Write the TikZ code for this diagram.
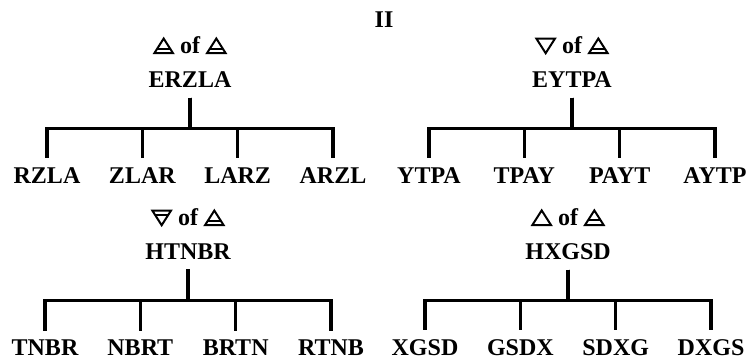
\documentclass[tikz,border=0pt]{standalone}
\usepackage{fontspec}
\setmainfont{Liberation Serif}
\usetikzlibrary{trees}

% element signs: plain and barred triangles
\tikzset{elem/.style={line width=1.5pt,line join=miter}}
\newcommand{\firesym}{\tikz[baseline=0pt]\draw[elem] (0pt,0pt) -- (14pt,0pt) -- (7pt,11pt) -- cycle;}
\newcommand{\airsym}{\tikz[baseline=0pt]{\draw[elem] (0pt,0pt) -- (14pt,0pt) -- (7pt,11pt) -- cycle;
  \draw[elem] (2.2pt,3.5pt) -- (11.8pt,3.5pt);}}
\newcommand{\watersym}{\tikz[baseline=0pt]\draw[elem] (0pt,11pt) -- (14pt,11pt) -- (7pt,0pt) -- cycle;}
\newcommand{\earthsym}{\tikz[baseline=0pt]{\draw[elem] (0pt,11pt) -- (14pt,11pt) -- (7pt,0pt) -- cycle;
  \draw[elem] (2.2pt,7.5pt) -- (11.8pt,7.5pt);}}

\begin{document}
\begin{tikzpicture}[x=0.75pt,y=0.75pt,line width=2.4pt,
    word/.style={font=\bfseries\fontsize{18}{22}\selectfont,inner sep=6pt},
    every label/.style={word,inner sep=2pt},label distance=4pt,
    level distance=72pt,sibling distance=71.5pt,
    edge from parent path={(\tikzparentnode.south) -- ++(0,-31) -| (\tikzchildnode.north)}]
  \useasboundingbox (0,0) rectangle (755,360);

  \node[word] (title) at (384,340) {II};

  \path
  (190,280) node[word,label={above:\airsym{} of \airsym}] (erzla) {ERZLA}
    child {node[word] (rzla) {RZLA}}
    child {node[word] (zlar) {ZLAR}}
    child {node[word] (larz) {LARZ}}
    child {node[word] (arzl) {ARZL}}

  (572,280) node[word,label={above:\watersym{} of \airsym}] (eytpa) {EYTPA}
    child {node[word] (ytpa) {YTPA}}
    child {node[word] (tpay) {TPAY}}
    child {node[word] (payt) {PAYT}}
    child {node[word] (aytp) {AYTP}}

  (188,108) node[word,label={above:\earthsym{} of \airsym}] (htnbr) {HTNBR}
    child {node[word] (tnbr) {TNBR}}
    child {node[word] (nbrt) {NBRT}}
    child {node[word] (brtn) {BRTN}}
    child {node[word] (rtnb) {RTNB}}

  (568,108) node[word,label={above:\firesym{} of \airsym}] (hxgsd) {HXGSD}
    child {node[word] (xgsd) {XGSD}}
    child {node[word] (gsdx) {GSDX}}
    child {node[word] (sdxg) {SDXG}}
    child {node[word] (dxgs) {DXGS}}
  ;
\end{tikzpicture}
\end{document}
